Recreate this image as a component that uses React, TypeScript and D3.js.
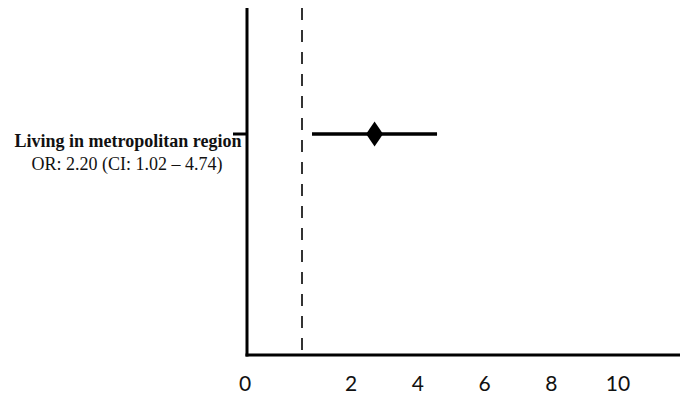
import React, { useEffect, useRef } from 'react';
import * as d3 from 'd3';

// forest plot data
const labels = ['Living in metropolitan region'];
const orText = ['OR: 2.20 (CI: 1.02 – 4.74)'];
const oddsRatios = [2.2];
const ciLower = [1.02];
const ciUpper = [4.74];
const tickValues = [0, 2, 4, 6, 8, 10];
const nullValue = 1;

const W = 682;
const H = 398;

const App = () => {
  const svgRef = useRef<SVGSVGElement | null>(null);

  useEffect(() => {
    if (!svgRef.current) return;
    const svg = d3.select(svgRef.current);
    svg.selectAll('*').remove();

    const axisX = 247;
    const axisTop = 8;
    const axisBottom = 355;
    const axisRight = 680;

    // label scale of the drawn axis (hand-spaced in the original)
    const xAxisScale = d3.scaleLinear()
      .domain([0, 1, 2, 10])
      .range([245, 302, 351, 618]);

    // log scale for the estimates
    const xLog = d3.scaleLog().domain([1, 10]).range([310.4, 497.8]);

    const y = d3.scalePoint<string>()
      .domain(labels)
      .range([134, 134]);

    // null line
    svg.append('line')
      .attr('x1', xAxisScale(nullValue)).attr('x2', xAxisScale(nullValue))
      .attr('y1', axisTop).attr('y2', axisBottom - 4)
      .style('stroke', '#333')
      .style('stroke-width', 2)
      .style('stroke-dasharray', '12,10');

    // axes
    svg.append('line')
      .attr('x1', axisX).attr('x2', axisX)
      .attr('y1', axisTop).attr('y2', axisBottom + 1.5)
      .style('stroke', '#000').style('stroke-width', 3);
    svg.append('line')
      .attr('x1', axisX - 1.5).attr('x2', axisRight)
      .attr('y1', axisBottom).attr('y2', axisBottom)
      .style('stroke', '#000').style('stroke-width', 3);

    // tick labels
    svg.selectAll('text.tick')
      .data(tickValues)
      .enter().append('text')
      .attr('class', 'tick')
      .attr('x', d => xAxisScale(d))
      .attr('y', 391)
      .attr('text-anchor', 'middle')
      .style('font-family', 'Lato, sans-serif')
      .style('font-size', '21px')
      .style('fill', '#111')
      .text(d => String(d));

    labels.forEach((lab, i) => {
      const cy = y(lab) as number;

      // row tick on y axis
      svg.append('line')
        .attr('x1', axisX - 14).attr('x2', axisX)
        .attr('y1', cy).attr('y2', cy)
        .style('stroke', '#000').style('stroke-width', 3);

      // CI
      svg.append('line')
        .attr('x1', xLog(ciLower[i])).attr('x2', xLog(ciUpper[i]))
        .attr('y1', cy).attr('y2', cy)
        .style('stroke', '#000').style('stroke-width', 3.5);

      // diamond
      const cx = xLog(oddsRatios[i]);
      svg.append('path')
        .attr('d', `M${cx},${cy - 12.5}L${cx + 8.5},${cy}L${cx},${cy + 12.5}L${cx - 8.5},${cy}Z`)
        .style('fill', '#000');

      // labels
      svg.append('text')
        .attr('x', 128).attr('y', cy + 13)
        .attr('text-anchor', 'middle')
        .style('font-family', '"Liberation Serif", "Times New Roman", serif')
        .style('font-weight', 'bold')
        .style('font-size', '18px')
        .style('fill', '#111')
        .text(lab);
      svg.append('text')
        .attr('x', 127).attr('y', cy + 36)
        .attr('text-anchor', 'middle')
        .style('font-family', '"Liberation Serif", "Times New Roman", serif')
        .style('font-size', '18px')
        .style('fill', '#111')
        .text(orText[i]);
    });
  }, []);

  return (
    <svg
      ref={svgRef}
      width={W}
      height={H}
      style={{ position: 'absolute', left: 0, top: 0, background: '#fff' }}
    />
  );
};

export default App;
